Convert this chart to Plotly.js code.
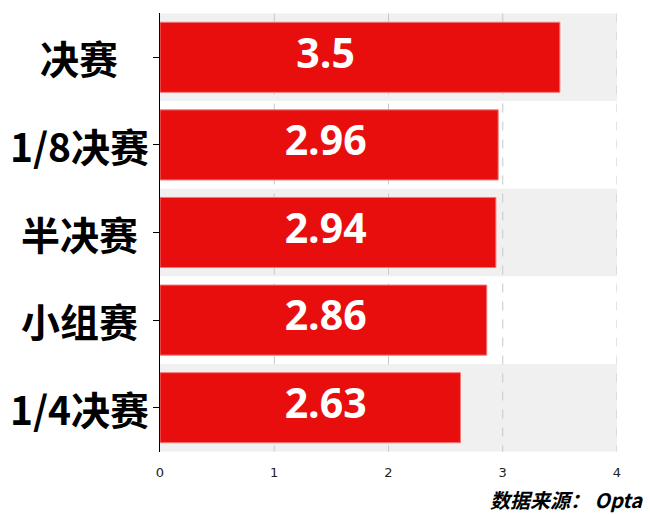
<!DOCTYPE html>
<html>
<head>
<meta charset="utf-8">
<script src="https://cdn.plot.ly/plotly-3.0.1.min.js"></script>
<style>html,body{margin:0;padding:0;background:#fff;}#chart{width:650px;height:515px;}</style>
</head>
<body>
<div id="chart"></div>
<script>
var categories = ["决赛", "1/8决赛", "半决赛", "小组赛", "1/4决赛"];
var values = [3.5, 2.96, 2.94, 2.86, 2.63];
var xTicks = [0, 1, 2, 3, 4];
var sourceText = "数据来源： Opta";

var LABEL_X = 1.45;
var X_MAX = 4;

var bars = {
  type: 'bar',
  orientation: 'h',
  y: categories,
  x: values,
  marker: {color: '#E80E0E', line: {color: '#F27A7A', width: 1}},
  hoverinfo: 'none'
};
var labels = {
  type: 'scatter',
  mode: 'text',
  y: categories,
  x: categories.map(function(){return LABEL_X;}),
  text: values.map(function(v){return String(v);}),
  textposition: 'middle center',
  textfont: {family: 'Open Sans', size: 41, color: '#ffffff', weight: 'bold'},
  hoverinfo: 'none'
};

var shapes = [];
for (var i = 0; i < categories.length; i += 2) {
  shapes.push({type: 'rect', xref: 'x', yref: 'y', x0: 0, x1: X_MAX, y0: i - 0.5, y1: i + 0.5,
    fillcolor: '#F0F0F0', line: {width: 0}, layer: 'below'});
}
xTicks.forEach(function(t){
  if (t === 0) return;
  shapes.push({type: 'line', xref: 'x', yref: 'y', x0: t, x1: t, y0: -0.5, y1: categories.length - 0.5,
    line: {color: '#C8C8C8', width: 1, dash: 'dash'}, layer: 'below'});
});

var annotations = categories.map(function(c){
  return {xref: 'paper', yref: 'y', x: -0.177, y: c, text: '<b>' + c + '</b>', showarrow: false,
    xanchor: 'center', yanchor: 'middle', font: {family: 'Noto Sans CJK SC', size: 39, color: '#000'}};
});
annotations.push({xref: 'paper', yref: 'paper', x: 1.062, y: -0.109, xanchor: 'right', yanchor: 'middle',
  text: '<b><i>' + sourceText + '</i></b>', showarrow: false,
  font: {family: 'Noto Sans CJK SC', size: 20, color: '#000'}});

var layout = {
  width: 650, height: 515,
  margin: {l: 160, r: 33, t: 13, b: 63},
  paper_bgcolor: '#fff', plot_bgcolor: '#fff',
  showlegend: false,
  bargap: 0.2,
  xaxis: {range: [0, X_MAX], tickvals: xTicks, ticktext: xTicks.map(String), showgrid: false,
    zeroline: false, showline: false,
    ticks: '', ticklabelstandoff: 11, tickfont: {family: 'DejaVu Sans', size: 13, color: '#222'}, fixedrange: true},
  yaxis: {autorange: 'reversed', showticklabels: false, ticks: 'outside', ticklen: 6, tickcolor: '#000',
    showline: true, linecolor: '#000', linewidth: 1.5, showgrid: false, zeroline: false, fixedrange: true},
  shapes: shapes,
  annotations: annotations
};

Plotly.newPlot('chart', [bars, labels], layout, {displayModeBar: false, staticPlot: true});
</script>
</body>
</html>
